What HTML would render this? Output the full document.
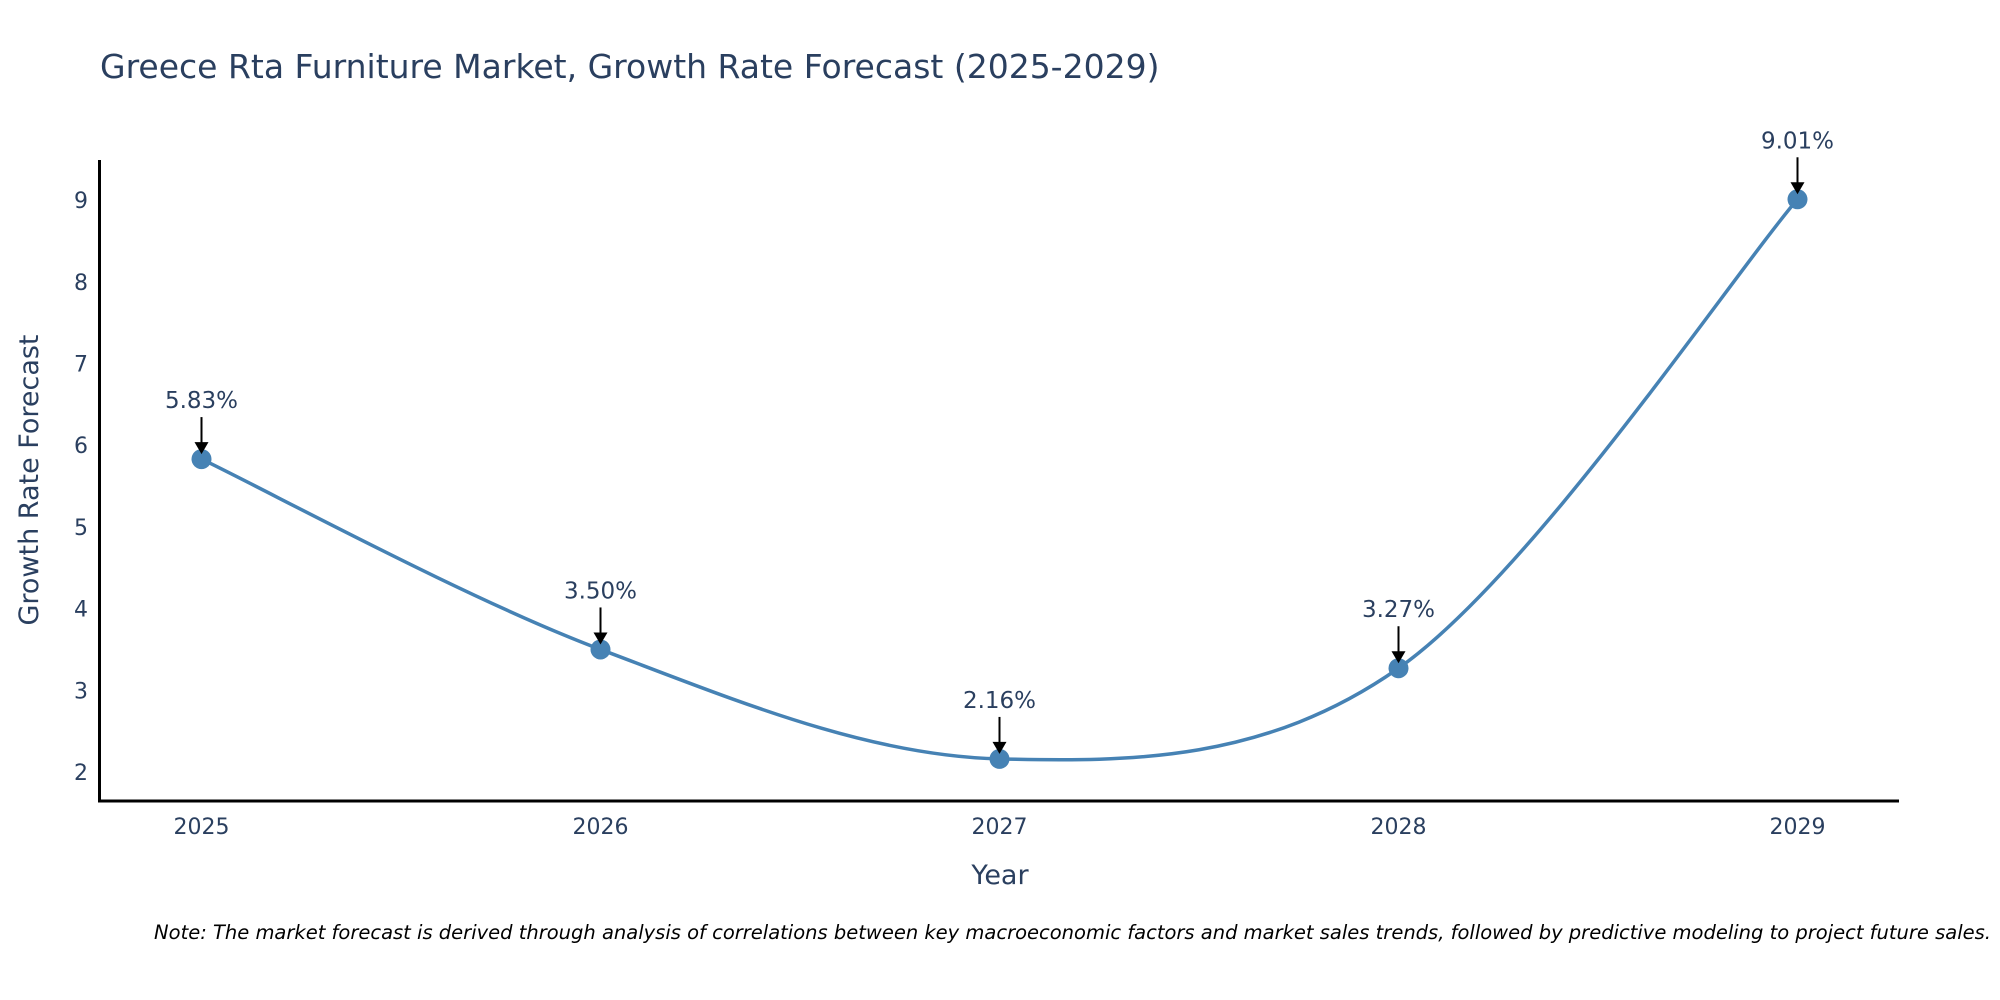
<!DOCTYPE html>
<html><head><meta charset="utf-8"><style>
body{margin:0;background:#fff;}
svg{display:block;font-family:"DejaVu Sans","Liberation Sans",sans-serif;}
</style></head><body>
<svg id="chart" width="2000" height="1000">
<text x="100" y="78" font-size="33" fill="#2a3f5f">Greece Rta Furniture Market, Growth Rate Forecast (2025-2029)</text>
<g id="yticks"></g><g id="xticks"></g>
<line x1="99.5" y1="160" x2="99.5" y2="802" stroke="#000" stroke-width="3"/>
<line x1="98" y1="801" x2="1899" y2="801" stroke="#000" stroke-width="3"/>
<g id="plot"></g>
<text transform="translate(38,480) rotate(-90)" text-anchor="middle" font-size="27" fill="#2a3f5f">Growth Rate Forecast</text>
<text x="1000" y="884" text-anchor="middle" font-size="27" fill="#2a3f5f">Year</text>
<text x="1991" y="939" text-anchor="end" font-size="19.5" font-style="italic" fill="#000">Note: The market forecast is derived through analysis of correlations between key macroeconomic factors and market sales trends, followed by predictive modeling to project future sales.</text>
</svg>
<script>
const years = ["2025","2026","2027","2028","2029"];
const values = [5.83, 3.50, 2.16, 3.27, 9.01];
const labels = ["5.83%","3.50%","2.16%","3.27%","9.01%"];
const yTicks = [2,3,4,5,6,7,8,9];
const NS="http://www.w3.org/2000/svg";
function X(i){return 201.5+i*399;}
function Y(v){return 772-(v-2)*81.7;}
function mk(tag,attrs,parent){const e=document.createElementNS(NS,tag);for(const k in attrs)e.setAttribute(k,attrs[k]);parent.appendChild(e);return e;}
const yt=document.getElementById('yticks'),xt=document.getElementById('xticks'),plot=document.getElementById('plot');
yTicks.forEach(t=>{const e=mk('text',{x:88,y:Y(t)+8,'text-anchor':'end','font-size':22,fill:'#2a3f5f'},yt);e.textContent=t;

});
years.forEach((y,i)=>{const e=mk('text',{x:X(i),y:834,'text-anchor':'middle','font-size':22,fill:'#2a3f5f'},xt);e.textContent=y;

});
const pts=values.map((v,i)=>[X(i),Y(v)]);
let d=`M${pts[0][0]},${pts[0][1]}`;const s=0.5/3*2;
for(let i=0;i<pts.length-1;i++){const p0=pts[Math.max(0,i-1)],p1=pts[i],p2=pts[i+1],p3=pts[Math.min(pts.length-1,i+2)];
const c1=[p1[0]+(p2[0]-p0[0])*s/2,p1[1]+(p2[1]-p0[1])*s/2],c2=[p2[0]-(p3[0]-p1[0])*s/2,p2[1]-(p3[1]-p1[1])*s/2];
d+=` C${c1[0]},${c1[1]} ${c2[0]},${c2[1]} ${p2[0]},${p2[1]}`;}
const line=mk('path',{d:d,fill:'none',stroke:'#4682b4','stroke-width':3.5},plot);


values.forEach((v,i)=>{const cx=X(i),cy=Y(v);
const c=mk('circle',{cx:cx,cy:cy,r:10,fill:'#4682b4'},plot);


const a=mk('line',{x1:cx,y1:cy-42,x2:cx,y2:cy-16,stroke:'#000','stroke-width':2},plot);


const h=mk('polygon',{points:`${cx-7},${cy-17} ${cx+7},${cy-17} ${cx},${cy-5}`,fill:'#000'},plot);


const t=mk('text',{x:cx,y:cy-51,'text-anchor':'middle','font-size':23,fill:'#2a3f5f'},plot);t.textContent=labels[i];

});
</script>
</body></html>
